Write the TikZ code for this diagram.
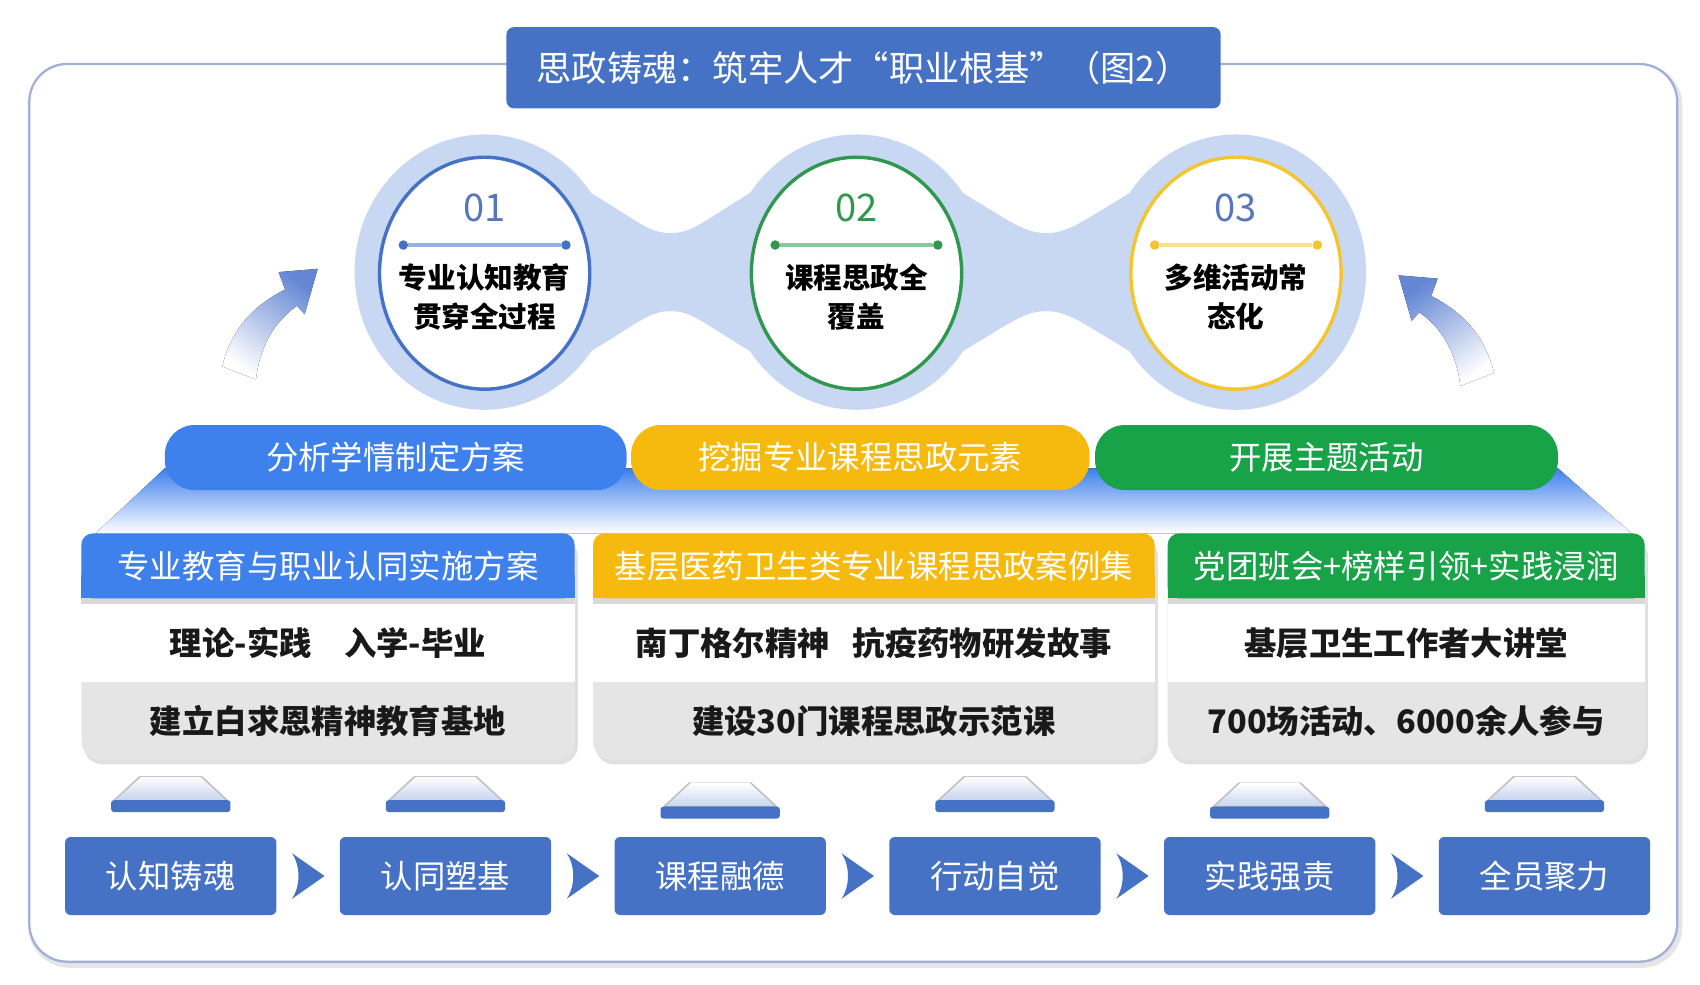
\documentclass[tikz,border=0pt]{standalone}
\usepackage{fontspec}
\setmainfont{Noto Sans CJK SC}
\usetikzlibrary{shapes.geometric,calc}
\definecolor{boxblue}{RGB}{70,114,198}
\definecolor{bandblue}{RGB}{62,128,236}
\definecolor{halo}{RGB}{200,215,242}
\definecolor{gold}{RGB}{246,185,14}
\definecolor{leaf}{RGB}{24,163,72}
\definecolor{ringgold}{RGB}{243,198,48}
\definecolor{ringgreen}{RGB}{48,152,78}
\definecolor{numblue}{RGB}{88,118,186}
\definecolor{rowgray}{RGB}{229,229,229}
\definecolor{framec}{RGB}{160,176,214}
\definecolor{arrowblue}{RGB}{100,135,212}

\begin{document}
\begin{tikzpicture}[x=0.02cm,y=-0.02cm,
  ring/.style={ellipse,draw=#1,line width=1.8pt,fill=white,minimum width=3.88cm,minimum height=4.28cm,inner sep=0},
  num/.style={text=#1,font=\fontsize{20}{22}\selectfont},
  dot/.style={circle,fill=#1,minimum size=5pt,inner sep=0},
  ctext/.style={align=center,font=\bfseries\fontsize{15}{20.5}\selectfont},
  pill/.style={fill=#1,rounded corners=0.55cm,minimum height=1.2cm,text=white,font=\fontsize{17}{20}\selectfont,inner sep=0},
  head/.style={fill=#1,rounded corners=6pt,minimum height=1.2cm,text=white,font=\fontsize{17}{20}\selectfont,inner sep=0},
  row/.style={font=\bfseries\fontsize{17}{20}\selectfont,text=black!90},
  stage/.style={fill=boxblue,rounded corners=3pt,minimum width=3.9cm,minimum height=1.44cm,text=white,font=\fontsize{17}{20}\selectfont}]
\useasboundingbox (0,0) rectangle (1568,908);
\fill[white] (0,0) rectangle (1568,908);
\draw[black!10,line width=3pt,rounded corners=0.7cm] (29,62) rectangle (1549,890);
\draw[framec,line width=1.2pt,rounded corners=0.7cm,fill=white] (27,59) rectangle (1547,887);
\node[fill=boxblue,rounded corners=4pt,minimum width=13.18cm,minimum height=1.5cm,text=white,font=\fontsize{18.5}{22}\selectfont] (title) at (796.5,62.5) {思政铸魂：筑牢人才“职业根基”（图2）};
\foreach \cx in {447,790,1140}
  \fill[halo] (\cx,251) ellipse [x radius=2.4cm,y radius=2.54cm];
\foreach \a/\b in {545/692,888/1042}{%
  \pgfmathsetmacro\m{(\a+\b)/2}
  \fill[halo] (\a,178) .. controls (\a+45,205) and (\m-20,215) .. (\m,215) .. controls (\m+20,215) and (\b-45,205) .. (\b,178) -- (\b,324) .. controls (\b-45,297) and (\m+20,287) .. (\m,287) .. controls (\m-20,287) and (\a+45,297) .. (\a,324) -- cycle;}
\foreach \i/\cx/\rc/\nc/\lc/\t in {1/447/boxblue/numblue/boxblue/{专业认知教育\\贯穿全过程},2/790/ringgreen/ringgreen/ringgreen/{课程思政全\\覆盖},3/1140/ringgold/numblue/ringgold/{多维活动常\\态化}}{%
  \node[ring=\rc] (r\i) at (\cx,252) {};
  \node[num=\nc] (n\i) at (\cx,192) {0\i};
  \node[dot=\lc] (a\i) at (\cx-75,226) {};
  \node[dot=\lc] (b\i) at (\cx+75,226) {};
  \draw[draw=\lc!55,line width=1.6pt] (a\i) -- (b\i);
  \node[ctext] (t\i) at (\cx,274) {\t};}
\fill[top color=arrowblue,bottom color=white,shading angle=-35] (205,338) .. controls (214,302) and (234,282) .. (263,267) -- (257,251) -- (293,248) -- (281,290) -- (274,282) .. controls (254,296) and (240,318) .. (236,350) -- cycle;
\begin{scope}[shift={(1583,6)},xscale=-1]
\fill[top color=arrowblue,bottom color=white,shading angle=35] (205,338) .. controls (214,302) and (234,282) .. (263,267) -- (257,251) -- (293,248) -- (281,290) -- (274,282) .. controls (254,296) and (240,318) .. (236,350) -- cycle;
\end{scope}
\fill[top color=bandblue,middle color=bandblue!70!white,bottom color=white] (152,432) -- (1437,432) -- (1505,492) -- (88,492) -- cycle;
\node[pill=bandblue,minimum width=8.52cm] (p1) at (365,422) {分析学情制定方案};
\node[pill=gold,minimum width=8.46cm] (p2) at (793.5,422) {挖掘专业课程思政元素};
\node[pill=leaf,minimum width=8.54cm] (p3) at (1223.5,422) {开展主题活动};
\foreach \i/\xa/\xb/\c/\h/\u/\v in {1/75/530/bandblue/{专业教育与职业认同实施方案}/{理论-实践\hspace{1em}入学-毕业}/{建立白求恩精神教育基地},2/547/1065/gold/{基层医药卫生类专业课程思政案例集}/{南丁格尔精神\hspace{0.7em}抗疫药物研发故事}/{建设30门课程思政示范课},3/1077/1517/leaf/{党团班会+榜样引领+实践浸润}/{基层卫生工作者大讲堂}/{700场活动、6000余人参与}}{%
  \pgfmathsetmacro\xm{(\xa+\xb)/2}
  \pgfmathsetmacro\w{(\xb-\xa)*0.02}
  \fill[black!12,rounded corners=10pt] (\xa+2,496) rectangle (\xb+3,705);
  \fill[rowgray,rounded corners=10pt] (\xa,492) rectangle (\xb,701);
  \fill[white] (\xa,555) rectangle (\xb,629);
  \fill[black!15] (\xa,552) rectangle (\xb,557);
  \fill[fill=\c] (\xa,530) rectangle (\xb,552);
  \node[head=\c,minimum width=\w cm] (h\i) at (\xm,522) {\h};
  \node[row] (u\i) at (\xm,593) {\u};
  \node[row] (v\i) at (\xm,665) {\v};}
\foreach \i/\dy in {0/0,1/0,2/6,3/0,4/6,5/0}{%
  \pgfmathsetmacro\bx{157.5+\i*253.4}
  \fill[top color=white,bottom color=boxblue!30] (\bx-52,738+\dy) -- (\bx-28,716+\dy) -- (\bx+28,716+\dy) -- (\bx+52,738+\dy) -- cycle;
  \draw[black!25,line width=0.8pt] (\bx-52,738+\dy) -- (\bx-28,716+\dy) (\bx+28,716+\dy) -- (\bx+52,738+\dy);
  \fill[boxblue,rounded corners=1.5pt] (\bx-55,738+\dy) rectangle (\bx+55,749+\dy);}
\foreach \t [count=\i] in {认知铸魂,认同塑基,课程融德,行动自觉,实践强责,全员聚力}
  \node[stage] (s\i) at ({157.5+(\i-1)*253.4},808) {\t};
\foreach \i in {1,...,5}
  \fill[boxblue] ($(s\i.east)+(14,-21)$) .. controls ($(s\i.east)+(22,-9)$) and ($(s\i.east)+(22,9)$) .. ($(s\i.east)+(14,21)$) -- ($(s\i.east)+(44,0)$) -- cycle;
\end{tikzpicture}
\end{document}
